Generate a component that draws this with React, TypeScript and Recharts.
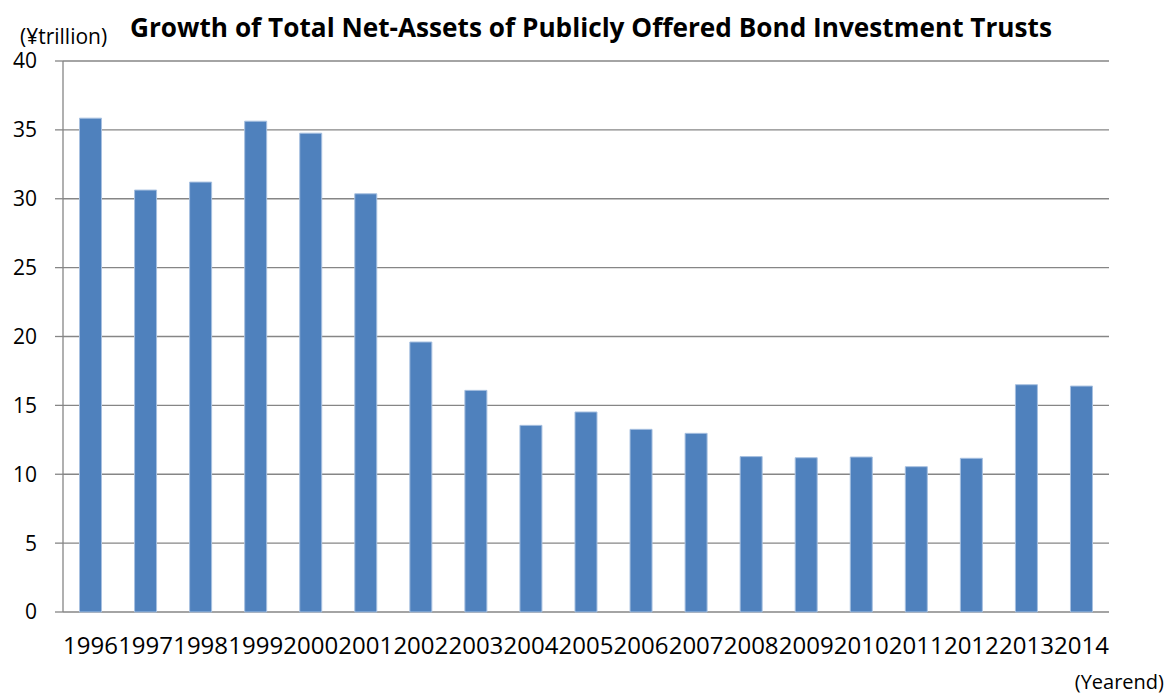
import { BarChart, Bar, XAxis, YAxis, CartesianGrid } from 'recharts';

const FONT = '"Open Sans", "Liberation Sans", sans-serif';
const AXIS = '#868686';

const years = ['1996', '1997', '1998', '1999', '2000', '2001', '2002', '2003', '2004', '2005',
  '2006', '2007', '2008', '2009', '2010', '2011', '2012', '2013', '2014'];
const netAssets = [35.85, 30.63, 31.21, 35.63, 34.76, 30.36, 19.6, 16.09, 13.55, 14.52,
  13.26, 12.97, 11.28, 11.2, 11.25, 10.55, 11.16, 16.5, 16.4];
const yTicks = [0, 5, 10, 15, 20, 25, 30, 35, 40];

const data = years.map((year, i) => ({ year, value: netAssets[i] }));
// category boundaries for the x-axis tick marks
const edgeTicks = [...years.map((_, i) => i), years.length];

export default function App() {
  return (
    <div style={{ position: 'absolute', left: 0, top: 0, width: 1168, height: 699, background: '#fff' }}>
      <BarChart width={1168} height={699} data={data} barCategoryGap="30%"
        margin={{ top: 61, right: 59, left: 0, bottom: 0 }}>
        <CartesianGrid vertical={false} stroke={AXIS} strokeWidth={1.3} xAxisId="cat" />
        <XAxis xAxisId="edge" type="number" domain={[0, years.length]} ticks={edgeTicks}
          allowDataOverflow tick={false} tickSize={8} height={0} stroke={AXIS} strokeWidth={1.3} />
        <XAxis xAxisId="cat" dataKey="year" interval={0} tickLine={false} axisLine={false}
          tickSize={0} tickMargin={25} height={87}
          tick={{ fontSize: 24, fill: '#000', fontFamily: FONT }} />
        <YAxis domain={[0, 40]} ticks={yTicks} interval={0} width={63} tickSize={8} tickMargin={18}
          stroke={AXIS} strokeWidth={1.3} tick={{ fontSize: 21, fill: '#000', fontFamily: FONT }} />
        <Bar xAxisId="cat" dataKey="value" fill="#4F81BD" stroke="#A7C0E0" strokeWidth={1}
          isAnimationActive={false} />
      </BarChart>
      <svg width={1168} height={699} style={{ position: 'absolute', left: 0, top: 0, pointerEvents: 'none' }}>
        <text x={130} y={37} fontFamily={FONT} fontWeight="bold" fontSize={27} fill="#000"
          textLength={922} lengthAdjust="spacingAndGlyphs">
          Growth of Total Net-Assets of Publicly Offered Bond Investment Trusts
        </text>
        <text x={20} y={44} fontFamily={FONT} fontSize={21} fill="#000">(¥trillion)</text>
        <text x={1164} y={689} fontFamily={FONT} fontSize={20} fill="#000" textAnchor="end">(Yearend)</text>
      </svg>
    </div>
  );
}
